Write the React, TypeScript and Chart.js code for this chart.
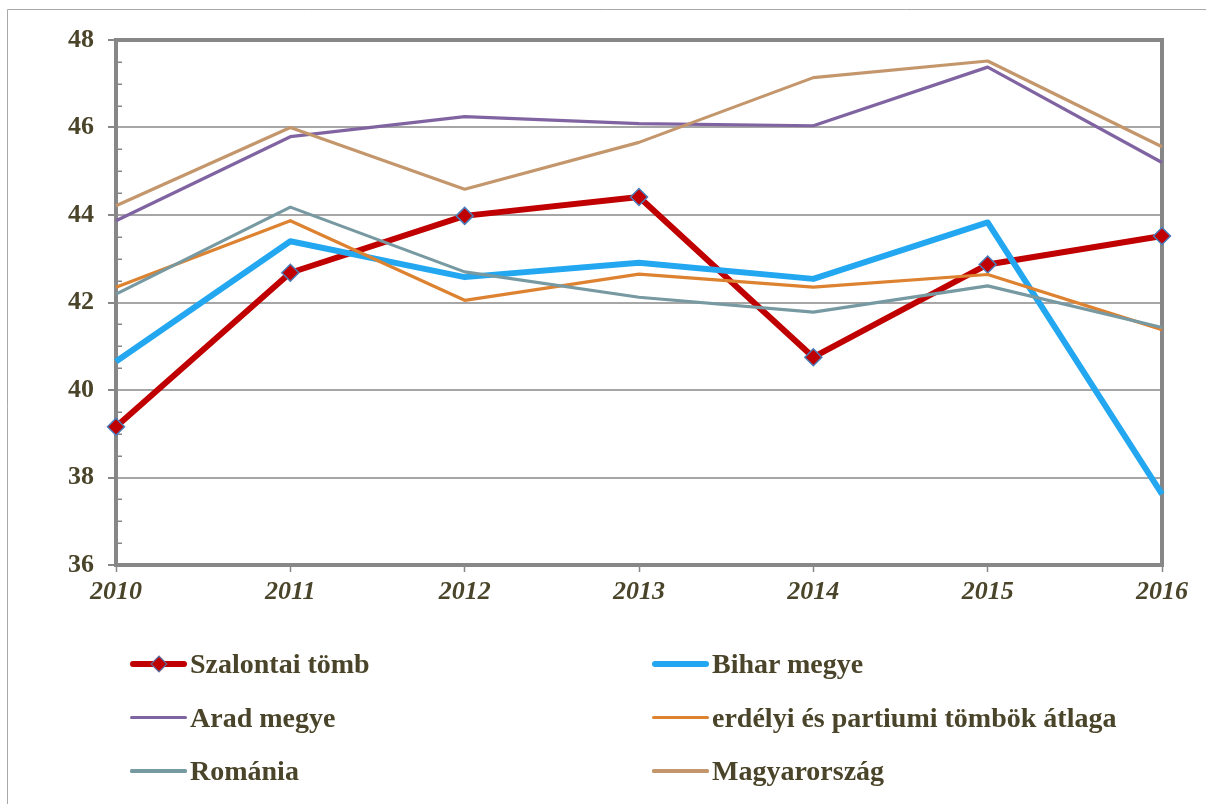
import React, { useEffect, useRef } from "react";
import { Chart, registerables } from "chart.js";

Chart.register(...registerables);

const years = ["2010", "2011", "2012", "2013", "2014", "2015", "2016"];
const szalontai = [39.16, 42.68, 43.98, 44.41, 40.75, 42.87, 43.52];
const bihar = [40.65, 43.4, 42.58, 42.91, 42.54, 43.83, 37.62];
const arad = [43.87, 45.79, 46.25, 46.09, 46.04, 47.38, 45.2];
const erdelyi = [42.35, 43.87, 42.05, 42.65, 42.35, 42.64, 41.38];
const romania = [42.19, 44.18, 42.7, 42.12, 41.78, 42.38, 41.43];
const magyar = [44.21, 46.0, 44.59, 45.66, 47.14, 47.52, 45.56];

const seriesNames = [
  "Szalontai tömb",
  "Bihar megye",
  "Arad megye",
  "erdélyi és partiumi tömbök átlaga",
  "Románia",
  "Magyarország",
];
const seriesValues = [szalontai, bihar, arad, erdelyi, romania, magyar];
const seriesColors = ["#c00000", "#22a7f0", "#8064a2", "#dd8230", "#7799a1", "#c4966c"];
const seriesWidths = [6, 6, 3.2, 3.2, 3.2, 3.2];
const markerBorder = "#4a7ebb";

const yMin = 36;
const yMax = 48;
const yStep = 2;
const yMinorStep = 0.5;

const TEXT = "#4a452a";
const AXIS = "#878787";
const GRID = "#a6a6a6";
const FONT = "'Liberation Serif', 'Times New Roman', serif";

const framePlugin = {
  id: "framePlugin",
  beforeDraw(chart: any) {
    const ctx = chart.ctx;
    ctx.save();
    ctx.strokeStyle = "#a8a8a8";
    ctx.lineWidth = 1;
    ctx.beginPath();
    ctx.moveTo(7.5, 804);
    ctx.lineTo(7.5, 9.5);
    ctx.lineTo(1206, 9.5);
    ctx.stroke();
    ctx.restore();
  },
  beforeDatasetsDraw(chart: any) {
    const ctx = chart.ctx;
    const { left, top, right, bottom } = chart.chartArea;
    const y = chart.scales.y;
    ctx.save();
    // minor ticks inside the plot
    ctx.strokeStyle = AXIS;
    ctx.lineWidth = 1.5;
    for (let v = yMin + yMinorStep; v < yMax; v += yMinorStep) {
      if (Math.abs(v / yStep - Math.round(v / yStep)) < 1e-6) continue;
      const py = Math.round(y.getPixelForValue(v)) + 0.25;
      ctx.beginPath();
      ctx.moveTo(left, py);
      ctx.lineTo(left + 6, py);
      ctx.stroke();
    }
    // top and right frame
    ctx.strokeStyle = AXIS;
    ctx.lineWidth = 4;
    ctx.beginPath();
    ctx.moveTo(left - 2, top);
    ctx.lineTo(right, top);
    ctx.lineTo(right, bottom + 2);
    ctx.stroke();
    ctx.restore();
  },
};

export default function App() {
  const ref = useRef<HTMLCanvasElement>(null);

  useEffect(() => {
    document.body.style.overflow = "hidden";
    document.documentElement.style.overflow = "hidden";
    const datasets = seriesNames.map((name, i) => ({
      label: name,
      data: seriesValues[i],
      borderColor: seriesColors[i],
      backgroundColor: seriesColors[i],
      borderWidth: seriesWidths[i],
      pointRadius: i === 0 ? 8.5 : 0,
      pointStyle: "rectRot" as const,
      pointBorderColor: markerBorder,
      pointBackgroundColor: seriesColors[i],
      pointBorderWidth: 1.5,
      borderJoinStyle: "round" as const,
      borderCapStyle: "butt" as const,
      tension: 0,
      fill: false,
      clip: false as any,
      order: seriesNames.length - i,
    }));

    const chart = new Chart(ref.current!, {
      type: "line",
      data: { labels: years, datasets },
      options: {
        animation: false,
        responsive: false,
        devicePixelRatio: 1,
        events: [],
        layout: { padding: { top: 40, right: 44, left: 0, bottom: 0 } },
        plugins: {
          legend: { display: false },
          tooltip: { enabled: false },
          title: { display: false },
        },
        scales: {
          x: {
            type: "category",
            offset: false,
            afterFit(scale: any) {
              scale.height = 239;
            },
            grid: {
              display: true,
              drawOnChartArea: false,
              tickLength: 7,
              tickColor: AXIS,
              tickWidth: 1.5,
            },
            border: { display: true, color: AXIS, width: 4 },
            ticks: {
              color: TEXT,
              padding: 5,
              maxRotation: 0,
              autoSkip: false,
              font: { family: FONT, size: 26, weight: "bold", style: "italic" },
            },
          },
          y: {
            type: "linear",
            min: yMin,
            max: yMax,
            afterFit(scale: any) {
              scale.width = 116;
            },
            grid: {
              color: GRID,
              lineWidth: 2,
              tickLength: 8,
              tickColor: AXIS,
              tickWidth: 2,
            },
            border: { display: true, color: AXIS, width: 4 },
            ticks: {
              stepSize: yStep,
              color: TEXT,
              padding: 14,
              font: { family: FONT, size: 26, weight: "bold" },
            },
          },
        },
      },
      plugins: [framePlugin],
    });
    return () => chart.destroy();
  }, []);

  const colX = [130, 652];
  const rowY = [664, 717.5, 771];

  return (
    <div style={{ position: "fixed", left: 0, top: 0, width: 1206, height: 804, background: "#fff", overflow: "hidden" }}>
      <canvas ref={ref} width={1206} height={804} style={{ position: "absolute", left: 0, top: 0, width: 1206, height: 804 }} />
      {seriesNames.map((name, i) => {
        const col = i % 2;
        const row = Math.floor(i / 2);
        return (
          <div
            key={name}
            style={{
              position: "absolute",
              left: colX[col],
              top: rowY[row] - 20,
              height: 40,
              display: "flex",
              alignItems: "center",
              whiteSpace: "nowrap",
            }}
          >
            <div style={{ position: "relative", width: 57, height: 40, marginRight: 3 }}>
              <div
                style={{
                  position: "absolute",
                  left: 0,
                  top: 20 - seriesWidths[i] / 2,
                  width: 57,
                  height: seriesWidths[i],
                  borderRadius: seriesWidths[i] / 2,
                  background: seriesColors[i],
                }}
              />
              {i === 0 && (
                <div
                  style={{
                    position: "absolute",
                    left: 28.5 - 6,
                    top: 20 - 6,
                    width: 12,
                    height: 12,
                    boxSizing: "border-box",
                    background: seriesColors[i],
                    border: `1.5px solid ${markerBorder}`,
                    transform: "rotate(45deg)",
                  }}
                />
              )}
            </div>
            <span style={{ fontFamily: FONT, fontWeight: "bold", fontSize: 28, color: TEXT, lineHeight: "40px" }}>
              {name}
            </span>
          </div>
        );
      })}
    </div>
  );
}
